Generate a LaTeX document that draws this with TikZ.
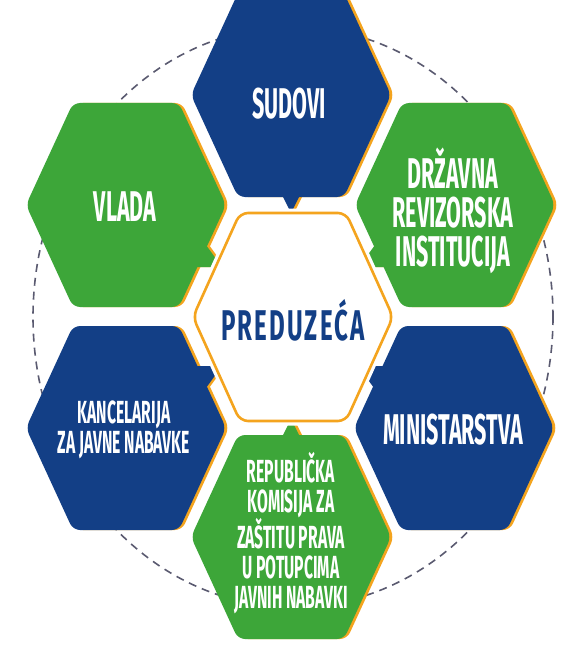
\documentclass[tikz,border=0pt]{standalone}
\usepackage{fontspec}
\newfontfamily\condfont{Fira Sans}[FakeStretch=0.5]
\newfontfamily\scondfont{Fira Sans}[FakeStretch=0.49]
\newfontfamily\ccondfont{Fira Sans}[FakeStretch=0.56, LetterSpace=5]
\definecolor{hblue}{HTML}{133F86}
\definecolor{hgreen}{HTML}{3DA639}
\definecolor{horange}{HTML}{F4A41E}
\definecolor{hdash}{HTML}{5A5A70}
\tikzset{
  lbl/.style={text=white, font=\condfont\bfseries\fontsize{43}{39}\selectfont, align=center, inner sep=0pt},
  slbl/.style={text=white, font=\scondfont\bfseries\fontsize{32}{30}\selectfont, align=center, inner sep=0pt},
  clbl/.style={text=hblue, font=\ccondfont\bfseries\fontsize{43}{43}\selectfont, inner sep=0pt},
}
\newcommand\hexat[4]{%
  \begin{scope}[shift={(#1,#2)}]
    \begin{scope}[shift={(3,0)}]
      \fill[horange, rounded corners=7pt] (-100,0) -- (-53,-102) -- (53,-102) -- (100,0) -- (53,102) -- (-53,102) -- cycle;
      \fill[horange] #4 -- cycle;
    \end{scope}
    \fill[#3, rounded corners=7pt] (-100,0) -- (-53,-102) -- (53,-102) -- (100,0) -- (53,102) -- (-53,102) -- cycle;
    \fill[#3] #4 -- cycle;
  \end{scope}}
\begin{document}
\begin{tikzpicture}[x=1pt,y=-1pt]
\useasboundingbox (0,0) rectangle (585,650);
\clip (0,0) rectangle (585,650);
\fill[white] (0,0) rectangle (585,650);
% dashed ring
\draw[hdash, line width=1.6pt, dash pattern=on 8pt off 6pt] (293,317) ellipse [x radius=260, y radius=290];
% outer hexagons
\hexat{291}{95}{hblue}{(-10,98) -- (0,118) -- (10,98)}
\hexat{126}{205}{hgreen}{(71,62) -- (80,40) -- (96,62)}
\hexat{455}{205}{hgreen}{(-71,62) -- (-80,40) -- (-96,62)}
\hexat{126}{428}{hblue}{(71,-62) -- (80,-40) -- (96,-62)}
\hexat{454}{428}{hblue}{(-71,-62) -- (-80,-40) -- (-96,-62)}
\hexat{291}{537}{hgreen}{(-10,-98) -- (0,-118) -- (10,-98)}
% centre hexagon
\begin{scope}[shift={(293,317)}]
  \draw[white, fill=white, line width=9pt, rounded corners=8pt] (-100,0) -- (-53,-104) -- (53,-104) -- (100,0) -- (53,104) -- (-53,104) -- cycle;
  \draw[horange, line width=2.6pt, rounded corners=8pt] (-100,0) -- (-53,-104) -- (53,-104) -- (100,0) -- (53,104) -- (-53,104) -- cycle;
\end{scope}
% labels
\node[lbl] (sudovi) at (289,104) {SUDOVI};
\node[lbl] (vlada) at (125,207) {VLADA};
\node[lbl] (drzavna) at (453,211) {DRŽAVNA\\REVIZORSKA\\INSTITUCIJA};
\node[clbl] (preduzeca) at (293,320) {PREDUZEĆA};
\node[slbl] (kancelarija) at (124,430) {KANCELARIJA\\ZA JAVNE NABAVKE};
\node[lbl] (ministarstva) at (453,430) {MINISTARSTVA};
\node[slbl] (republicka) at (291,533) {REPUBLIČKA\\KOMISIJA ZA\\ZAŠTITU PRAVA\\U POTUPCIMA\\JAVNIH NABAVKI};
\end{tikzpicture}
\end{document}
